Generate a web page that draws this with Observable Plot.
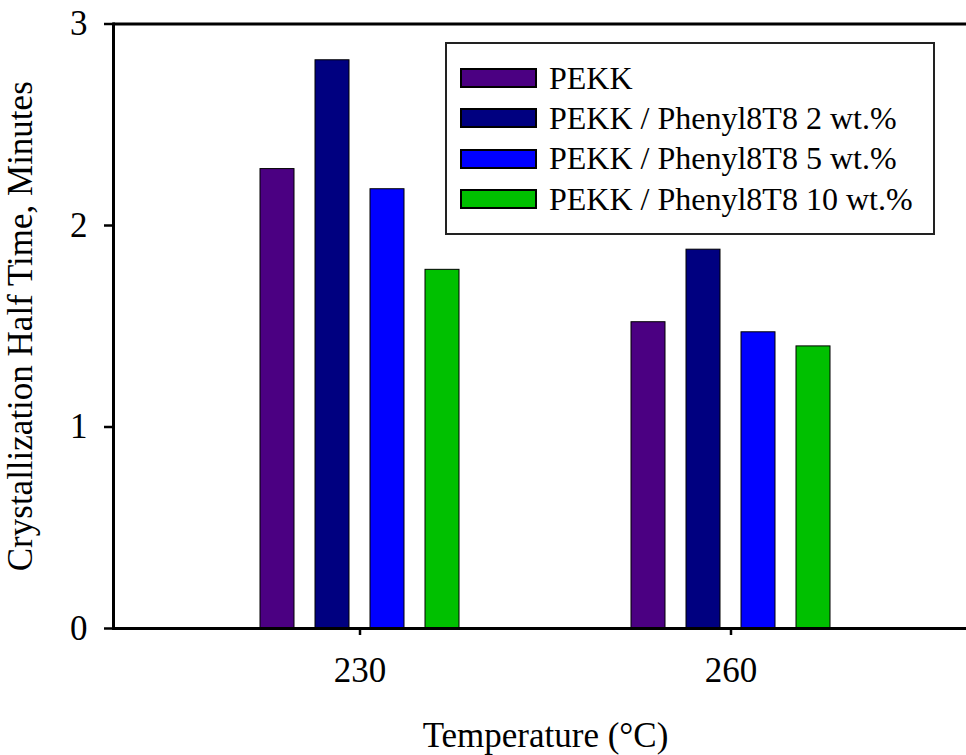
<!DOCTYPE html>
<html>
<head>
<meta charset="utf-8">
<script src="https://cdn.jsdelivr.net/npm/d3@7"></script>
<script src="https://cdn.jsdelivr.net/npm/@observablehq/plot@0.6"></script>
<style>
  html, body { margin: 0; padding: 0; background: #fff; overflow: hidden; }
  #wrap { position: relative; width: 966px; height: 755px; }
  #wrap > svg { position: absolute; left: 0; top: 0; }
  #legend {
    position: absolute; left: 445px; top: 42px; width: 490px; height: 193px;
    box-sizing: border-box; border: 2px solid #222; background: #fff;
    padding: 14px 0 0 14px;
  }
  #legend, #legend * { font-family: 'Liberation Serif', 'Times New Roman', Times, serif !important; font-size: 32px !important; color: #000 !important; }
  .leg-swatches-columns .leg-swatch { height: 40.3px !important; padding-bottom: 0 !important; display: flex; align-items: center; }
  .leg-swatch svg { margin-right: 13px !important; }
  .leg-swatch svg rect { stroke: #000; stroke-width: 2px; }
  .leg-swatch-label { white-space: nowrap; }
</style>
</head>
<body>
<div id="wrap"><div id="legend"></div></div>
<script>
// ---- data ----
const temperatures = ["230", "260"];
const series = ["PEKK", "PEKK / Phenyl8T8 2 wt.%", "PEKK / Phenyl8T8 5 wt.%", "PEKK / Phenyl8T8 10 wt.%"];
const pekk      = [2.28, 1.52];
const pekk2wt   = [2.82, 1.88];
const pekk5wt   = [2.18, 1.47];
const pekk10wt  = [1.78, 1.40];
const colors = ["#4b0082", "#000080", "#0000ff", "#00c000"];
const yTicks = [0, 1, 2, 3];
const xLabel = "Temperature (°C)";
const yLabel = "Crystallization Half Time, Minutes";

const valuesBySeries = [pekk, pekk2wt, pekk5wt, pekk10wt];
const rows = [];
temperatures.forEach((t, i) => {
  series.forEach((s, j) => rows.push({temp: t, series: s, value: valuesBySeries[j][i]}));
});

const font = "'Liberation Serif', 'Times New Roman', Times, serif";
const layout = {
  width: 966,
  height: 755,
  marginLeft: 113,
  marginRight: -11,
  marginTop: 23.5,
  marginBottom: 127,
  style: {fontFamily: font, fontSize: "35px", color: "#000", background: "transparent"}
};

// grouped bars, faceted by temperature
const bars = Plot.plot({
  ...layout,
  fx: {domain: temperatures, paddingInner: 0, paddingOuter: 0.1644, align: 0.5, label: xLabel},
  x: {domain: series, paddingInner: 0.39, paddingOuter: 1.525, align: 0.5, axis: null},
  y: {domain: [0, 3], axis: null},
  color: {domain: series, range: colors},
  marks: [
    Plot.barY(rows, {fx: "temp", x: "series", y: "value", fill: "series", stroke: "#000", strokeWidth: 1}),
    Plot.axisFx({anchor: "bottom", tickSize: 7, tickPadding: 22, strokeWidth: 2.5, label: xLabel, labelArrow: "none", labelAnchor: "center", labelOffset: 118})
  ]
});

// axes frame spanning the whole plot area
const axes = Plot.plot({
  ...layout,
  y: {domain: [0, 3], ticks: yTicks, label: yLabel},
  marks: [
    Plot.axisY({ticks: yTicks, tickFormat: "d", tickSize: 9, tickPadding: 17, strokeWidth: 2.5, label: yLabel, labelArrow: "none", labelAnchor: "center", labelOffset: 106}),
    Plot.ruleY([0, 3], {strokeWidth: 3}),
    Plot.frame({anchor: "left", strokeWidth: 3})
  ]
});

const wrap = document.getElementById("wrap");
wrap.prepend(axes);
wrap.prepend(bars);

const legend = Plot.legend({
  color: {domain: series, range: colors},
  legend: "swatches",
  columns: 1,
  swatchWidth: 75,
  swatchHeight: 18,
  className: "leg",
  style: {fontFamily: font, fontSize: "32px", color: "#000", margin: "0"}
});
document.getElementById("legend").appendChild(legend);
</script>
</body>
</html>
